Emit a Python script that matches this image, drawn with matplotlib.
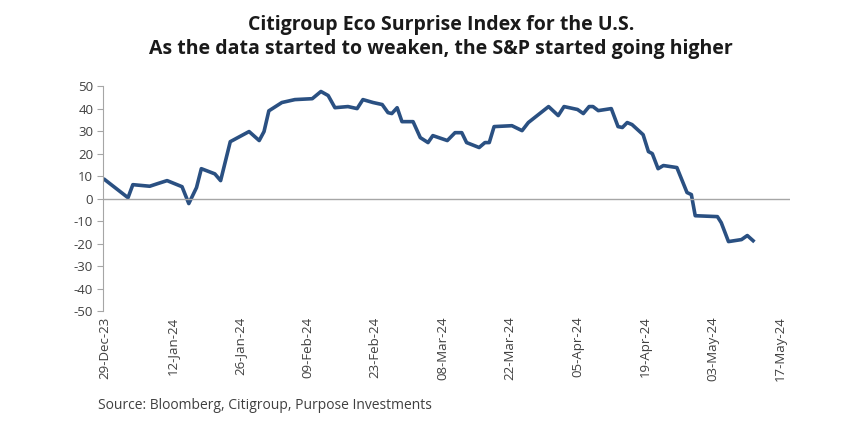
import matplotlib
matplotlib.use("Agg")
import matplotlib.pyplot as plt
import pandas as pd

day_offsets = [0, 4.8, 5.8, 9.3, 11, 12.9, 16, 17.4, 19, 20, 22.8, 24, 26, 29.9, 32, 33, 34,
               36.7, 39.4, 43, 44.8, 46.3, 47.7, 50.4, 52.3, 53.5, 55.6, 57.5, 58.7, 59.5, 60.6,
               61.6, 63.9, 65.4, 67, 68, 71, 72.6, 74, 75, 77.6, 78.8, 79.7, 80.7, 84.4, 86.5,
               87.8, 92, 94, 95.2, 98, 99.2, 100.4, 101.2, 102.3, 105, 106.4, 107.3, 108.3, 109.3,
               111.6, 112.7, 113.5, 114.7, 115.8, 118.6, 120.7, 121.6, 122.4, 127, 127.8, 129.3,
               132, 133.2, 134.4]
values = [8.4, 0.4, 6.2, 5.5, 6.7, 8.0, 5.3, -2.2, 4.9, 13.3, 11.0, 8.0, 25.3, 29.8, 25.8, 29.8, 39.0,
          42.7, 44.0, 44.4, 47.6, 45.8, 40.4, 40.9, 40.0, 44.0, 42.7, 41.8, 38.2, 37.8, 40.4,
          34.2, 34.2, 27.1, 24.9, 28.0, 25.8, 29.3, 29.3, 24.9, 22.7, 24.9, 24.9, 32.0, 32.4, 30.2,
          33.8, 40.9, 36.9, 40.9, 39.6, 37.8, 40.9, 40.9, 39.1, 40.0, 32.0, 31.6, 33.8, 32.9,
          28.4, 20.9, 20.0, 13.3, 14.7, 13.8, 2.7, 1.8, -7.6, -8.0, -10.7, -19.1,
          -18.2, -16.4, -18.7]
start = pd.Timestamp("2023-12-29")
dates = [start + pd.Timedelta(days=d) for d in day_offsets]
tick_dates = pd.date_range("2023-12-29", periods=11, freq="14D")
tick_labels = [d.strftime("%d-%b-%y") for d in tick_dates]
yticks = list(range(-50, 51, 10))

plt.rcParams['font.family'] = ['Open Sans', 'DejaVu Sans']
fig = plt.figure(figsize=(8.65, 4.37), dpi=100)
ax = fig.add_axes([0.119, 0.288, 0.794, 0.515])
ax.plot(dates, values, color="#2a5082", lw=2.6, solid_joinstyle="round")
ax.axhline(0, color="#a6a6a6", lw=1)
ax.set_ylim(-50, 50)
ax.set_xlim(start - pd.Timedelta(days=0.4), start + pd.Timedelta(days=142))
ax.set_yticks(yticks)
ax.set_yticklabels([str(v) for v in yticks], fontsize=9.5, color="#404040")
ax.set_xticks(tick_dates)
ax.set_xticklabels(tick_labels, rotation=90, fontsize=9.5, color="#404040")
for s in ["top", "right", "bottom"]:
    ax.spines[s].set_visible(False)
ax.spines["left"].set_color("#a6a6a6")
ax.tick_params(axis="y", length=4, color="#a6a6a6", pad=3)
ax.tick_params(axis="x", length=0, pad=4)
fig.text(0.51, 0.915, "Citigroup Eco Surprise Index for the U.S.\nAs the data started to weaken, the S&P started going higher",
         ha="center", va="center", fontsize=14, fontweight="bold", color="#1a1a1a", linespacing=1.25)
fig.text(0.113, 0.065, "Source: Bloomberg, Citigroup, Purpose Investments", fontsize=10, color="#404040")
fig.savefig("out.png", dpi=100, facecolor="white")
